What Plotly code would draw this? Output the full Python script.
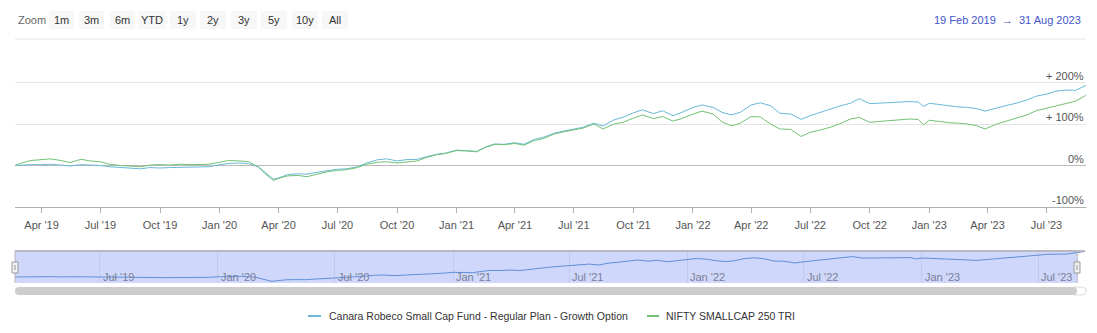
import plotly.graph_objects as go

W, H = 1097, 333

# ---------------- data ----------------
dates = [
    "2019-02-19", "2019-03-01", "2019-03-15", "2019-04-01", "2019-04-15", "2019-05-01", "2019-05-15",
    "2019-06-01", "2019-06-15", "2019-07-01", "2019-07-15", "2019-08-01", "2019-08-15", "2019-09-01",
    "2019-09-15", "2019-10-01", "2019-10-15", "2019-11-01", "2019-11-15", "2019-12-01", "2019-12-15",
    "2020-01-01", "2020-01-15", "2020-02-01", "2020-02-15", "2020-03-01", "2020-03-10", "2020-03-24",
    "2020-04-01", "2020-04-15", "2020-05-01", "2020-05-15", "2020-06-01", "2020-06-15", "2020-07-01",
    "2020-07-15", "2020-08-01", "2020-08-15", "2020-09-01", "2020-09-15", "2020-10-01", "2020-10-15",
    "2020-11-01", "2020-11-15", "2020-12-01", "2020-12-15", "2021-01-01", "2021-01-15", "2021-02-01",
    "2021-02-15", "2021-03-01", "2021-03-15", "2021-04-01", "2021-04-15", "2021-05-01", "2021-05-15",
    "2021-06-01", "2021-06-15", "2021-07-01", "2021-07-15", "2021-08-01", "2021-08-15", "2021-09-01",
    "2021-09-15", "2021-10-01", "2021-10-15", "2021-11-01", "2021-11-15", "2021-12-01", "2021-12-15",
    "2022-01-01", "2022-01-15", "2022-02-01", "2022-02-15", "2022-03-01", "2022-03-08", "2022-03-15",
    "2022-04-01", "2022-04-15", "2022-05-01", "2022-05-15", "2022-06-01", "2022-06-17", "2022-07-01",
    "2022-07-15", "2022-08-01", "2022-08-15", "2022-09-01", "2022-09-15", "2022-10-01", "2022-10-15",
    "2022-11-01", "2022-11-15", "2022-12-01", "2022-12-15", "2022-12-23", "2023-01-01", "2023-01-15",
    "2023-02-01", "2023-02-15", "2023-03-01", "2023-03-15", "2023-03-28", "2023-04-15", "2023-05-01",
    "2023-05-15", "2023-06-01", "2023-06-15", "2023-07-01", "2023-07-15", "2023-08-01", "2023-08-15",
    "2023-08-31",
]

fund_pct = [
    0, 1, 2, 2, 3, 1, -1,
    2, 1, 0, -3, -5, -7, -8,
    -5, -6, -5, -4, -4, -4, -3,
    2, 5, 6, 4, -3, -15, -33,
    -30, -22, -20, -21, -16, -12, -9,
    -8, -3, 6, 14, 16, 11, 14,
    15, 21, 27, 30, 37, 36, 34,
    45, 52, 51, 55, 51, 63, 68,
    78, 83, 88, 92, 102, 95, 110,
    116, 127, 134, 125, 132, 120, 128,
    140, 146, 140, 128, 122, 125, 128,
    146, 151, 144, 126, 124, 111, 120,
    127, 137, 143, 150, 161, 149, 150,
    151, 153, 154, 153, 142, 150, 147,
    143, 141, 140, 137, 131, 139, 145,
    150, 158, 167, 172, 179, 182, 181,
    193,
]

nifty_pct = [
    0, 6, 12, 14, 16, 12, 7,
    15, 11, 9, 3, 0, -2, -3,
    1, 2, 1, 3, 2, 2, 3,
    8, 12, 11, 9, -4, -18, -36,
    -31, -25, -24, -27, -20, -15, -12,
    -10, -5, 3, 8, 9, 6, 9,
    11, 19, 26, 29, 36, 35, 33,
    44, 51, 50, 53, 49, 60, 65,
    76, 81, 86, 90, 100, 88, 100,
    104, 114, 122, 113, 118, 107, 113,
    124, 131, 124, 105, 96, 98, 102,
    118, 117, 100, 88, 87, 70, 80,
    85, 92, 100, 112, 116, 104, 106,
    108, 110, 112, 111, 98, 109, 106,
    103, 102, 100, 96, 88, 100, 108,
    114, 122, 132, 138, 144, 149, 155,
    169,
]

# navigator data runs a little past the visible range
nav_extra_dates = ["2023-09-05", "2023-09-12"]
nav_extra_pct = [197, 201]

series_names = ["Canara Robeco Small Cap Fund - Regular Plan - Growth Option", "NIFTY SMALLCAP 250 TRI"]
series_colors = ["#6ab8d6", "#72c075"]

y_tick_vals = [-100, 0, 100, 200]
y_tick_text = ["-100%", "0%", "+ 100%", "+ 200%"]

nav_tick_dates = ["2019-07-01", "2020-01-01", "2020-07-01", "2021-01-01", "2021-07-01",
                  "2022-01-01", "2022-07-01", "2023-01-01", "2023-07-01"]
nav_tick_text = ["Jul '19", "Jan '20", "Jul '20", "Jan '21", "Jul '21",
                 "Jan '22", "Jul '22", "Jan '23", "Jul '23"]

zoom_buttons = ["1m", "3m", "6m", "YTD", "1y", "2y", "3y", "5y", "10y", "All"]
range_text = "19 Feb 2019  \u2192  31 Aug 2023"

view_start, view_end = "2019-02-19", "2023-08-31"
nav_start, nav_end = "2019-02-19", "2023-09-12"

FONT = "Liberation Sans, Arial, sans-serif"


def px(x):
    return x / W


def py(y):
    return 1 - y / H


fig = go.Figure()

fig.add_trace(go.Scatter(x=dates, y=fund_pct, mode="lines", name=series_names[0],
                         line=dict(color=series_colors[0], width=1), xaxis="x", yaxis="y",
                         showlegend=False, hoverinfo="skip"))
fig.add_trace(go.Scatter(x=dates, y=nifty_pct, mode="lines", name=series_names[1],
                         line=dict(color=series_colors[1], width=1), xaxis="x", yaxis="y",
                         showlegend=False, hoverinfo="skip"))

# navigator series
fig.add_trace(go.Scatter(x=dates + nav_extra_dates, y=fund_pct + nav_extra_pct, mode="lines",
                         line=dict(color="#6390d6", width=1), xaxis="x2", yaxis="y2",
                         showlegend=False, hoverinfo="skip"))

shapes = []
annotations = []

# top separator line
shapes.append(dict(type="line", xref="paper", yref="paper", x0=px(15), x1=px(1086),
                   y0=py(39), y1=py(39), line=dict(color="#e3e3e3", width=1)))

# zoom buttons
annotations.append(dict(text="Zoom", xref="paper", yref="paper", x=px(16), y=py(20),
                        xanchor="left", yanchor="middle", showarrow=False,
                        font=dict(family=FONT, size=11, color="#666666")))
btn_boxes = [(49, 74), (79, 104), (110, 135), (138, 166), (170, 196), (200, 226),
             (231, 257), (261, 287), (292, 318), (322, 348)]
for lab, (a, b) in zip(zoom_buttons, btn_boxes):
    shapes.append(dict(type="rect", xref="paper", yref="paper", x0=px(a), x1=px(b),
                       y0=py(29), y1=py(11), fillcolor="#f7f7f7", line=dict(width=0),
                       layer="below"))
    annotations.append(dict(text=lab, xref="paper", yref="paper", x=px((a + b) / 2), y=py(20),
                            xanchor="center", yanchor="middle", showarrow=False,
                            font=dict(family=FONT, size=11, color="#333333")))

# date range text
annotations.append(dict(text=range_text, xref="paper", yref="paper", x=px(1083), y=py(20),
                        xanchor="right", yanchor="middle", showarrow=False,
                        font=dict(family=FONT, size=11, color="#4455cc")))

# y labels above gridlines
for v, t in zip(y_tick_vals, y_tick_text):
    annotations.append(dict(text=t, xref="paper", yref="y", x=px(1086), y=v,
                            xanchor="right", yanchor="bottom", showarrow=False, yshift=-1,
                            font=dict(family=FONT, size=11, color="#555555")))

# navigator labels (inside, near the bottom, right of the grid line)
for d, t in zip(nav_tick_dates, nav_tick_text):
    annotations.append(dict(text=t, xref="x2", yref="paper", x=d, y=py(277),
                            xanchor="left", yanchor="middle", showarrow=False, xshift=1,
                            font=dict(family=FONT, size=11, color="#7a7f95")))

# navigator mask and outline
shapes.append(dict(type="rect", xref="x2", yref="paper", x0=view_start, x1=view_end,
                   y0=py(283), y1=py(251), fillcolor="#cfd7fb", line=dict(width=0), layer="below"))
shapes.append(dict(type="line", xref="paper", yref="paper", x0=px(15), x1=px(1085),
                   y0=py(251), y1=py(251), line=dict(color="#b8b8c0", width=2)))
shapes.append(dict(type="line", xref="paper", yref="paper", x0=px(15), x1=px(15),
                   y0=py(251), y1=py(283), line=dict(color="#b8b8c0", width=1)))
shapes.append(dict(type="line", xref="x2", yref="paper", x0=view_end, x1=view_end,
                   y0=py(251), y1=py(283), line=dict(color="#b8b8c0", width=1)))

# handles
for cx in (15, 1077):
    shapes.append(dict(type="rect", xref="paper", yref="paper", x0=px(cx - 3), x1=px(cx + 3),
                       y0=py(273), y1=py(262), fillcolor="#f2f2f2",
                       line=dict(color="#999999", width=1)))
    shapes.append(dict(type="line", xref="paper", yref="paper", x0=px(cx), x1=px(cx),
                       y0=py(270), y1=py(265), line=dict(color="#999999", width=1)))


def pill(x0, x1, y0, y1):
    r = (y1 - y0) / 2
    ym = (y0 + y1) / 2
    pts = [
        f"M{px(x0 + r)},{py(y0)}", f"L{px(x1 - r)},{py(y0)}",
        f"Q{px(x1)},{py(y0)} {px(x1)},{py(ym)}",
        f"Q{px(x1)},{py(y1)} {px(x1 - r)},{py(y1)}",
        f"L{px(x0 + r)},{py(y1)}",
        f"Q{px(x0)},{py(y1)} {px(x0)},{py(ym)}",
        f"Q{px(x0)},{py(y0)} {px(x0 + r)},{py(y0)}", "Z",
    ]
    return " ".join(pts)


# scrollbar
shapes.append(dict(type="path", xref="paper", yref="paper", path=pill(1070, 1086, 287, 295),
                   fillcolor="#ffffff", line=dict(color="#dddddd", width=1)))
shapes.append(dict(type="path", xref="paper", yref="paper", path=pill(15, 1077, 287, 295),
                   fillcolor="#cccccc", line=dict(width=0)))

# custom legend
leg_items = [(308, 321, 327), (647, 659, 664)]
for (a, b, tx), name, col in zip(leg_items, series_names, series_colors):
    shapes.append(dict(type="line", xref="paper", yref="paper", x0=px(a), x1=px(b),
                       y0=py(316), y1=py(316), line=dict(color=col, width=2)))
    annotations.append(dict(text=name, xref="paper", yref="paper", x=px(tx), y=py(316),
                            xanchor="left", yanchor="middle", showarrow=False,
                            font=dict(family=FONT, size=10.5, color="#333333")))

fig.update_layout(
    width=W, height=H,
    margin=dict(l=0, r=0, t=0, b=0),
    paper_bgcolor="white", plot_bgcolor="white",
    font=dict(family=FONT),
    showlegend=False,
    shapes=shapes,
    annotations=annotations,
    xaxis=dict(
        domain=[px(15), px(1086)], range=[view_start, view_end], type="date",
        tick0="2019-01-01", dtick="M3", tickformat="%b '%y",
        ticks="outside", ticklen=5, tickcolor="#b0b0b0",
        showline=True, linecolor="#b0b0b0", linewidth=1,
        showgrid=False, zeroline=False, ticklabelstandoff=3,
        tickfont=dict(family=FONT, size=11, color="#555555"),
        anchor="y", fixedrange=True,
    ),
    yaxis=dict(
        domain=[py(207), py(207 - 380 * 0.415)], range=[-100, 280],
        tickvals=y_tick_vals, showticklabels=False,
        showgrid=True, gridcolor="#e6e6e6", gridwidth=1,
        zeroline=True, zerolinecolor="#bbbbbb", zerolinewidth=1,
        showline=False, anchor="x", fixedrange=True,
    ),
    xaxis2=dict(
        domain=[px(15), px(1085)], range=[nav_start, nav_end], type="date",
        tickvals=nav_tick_dates, showticklabels=False, ticks="", showline=False,
        showgrid=True, gridcolor="#c2caee", gridwidth=1, zeroline=False,
        anchor="y2", fixedrange=True,
    ),
    yaxis2=dict(
        domain=[py(283), py(251)], range=[-47, 205],
        showticklabels=False, showgrid=False, zeroline=False, showline=False,
        anchor="x2", fixedrange=True,
    ),
)

fig.write_html("out.html")
